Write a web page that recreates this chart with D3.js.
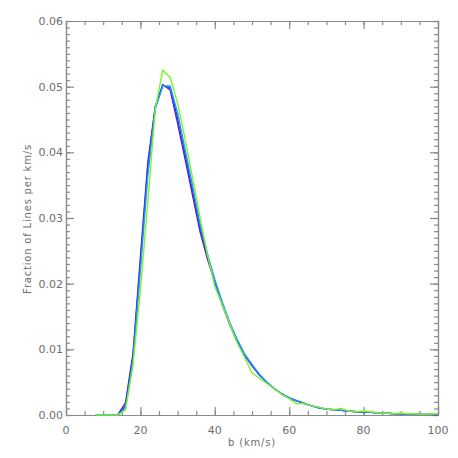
<!DOCTYPE html>
<html>
<head>
<meta charset="utf-8">
<script src="https://cdn.jsdelivr.net/npm/d3@7"></script>
<style>
  body { margin: 0; background: #fff; }
  svg text { font-family: "DejaVu Sans", sans-serif; fill: #6e6e6e; }
</style>
</head>
<body>
<svg id="chart" width="458" height="458"></svg>
<script>
// data (b in km/s, fraction of lines per km/s)
var bins = [8,10,12,14,16,18,20,22,24,26,28,30,32,34,36,38,40,42,44,46,48,50,
            52,54,56,58,60,62,64,66,68,70,72,74,76,78,80,82,84,86,88,90,92,94,96,98,100];

var purpleVals = [0,0,0,0.0001,0.0019,0.0093,0.0240,0.0385,0.0470,0.0503,0.0495,0.0444,0.0390,0.0335,0.0280,0.0238,0.0202,
                  0.0168,0.0138,0.0112,0.0091,0.0075,0.0061,0.0049,0.0040,0.0032,0.0026,0.0021,0.0018,0.0014,0.0011,0.0009,
                  0.0008,0.0007,0.0006,0.0005,0.0004,0.0004,0.0003,0.0003,0.0002,0.0002,0.0002,0.0001,0.0001,0.0001,0.0000];
var blueVals   = [0,0,0,0.0000,0.0014,0.0088,0.0232,0.0378,0.0468,0.0502,0.0498,0.0452,0.0397,0.0342,0.0286,0.0242,0.0204,
                  0.0170,0.0140,0.0114,0.0092,0.0076,0.0061,0.0050,0.0040,0.0032,0.0026,0.0022,0.0018,0.0014,0.0011,0.0009,
                  0.0008,0.0007,0.0006,0.0005,0.0004,0.0004,0.0003,0.0003,0.0002,0.0002,0.0002,0.0001,0.0001,0.0001,0.0001];
var lightVals  = [0,0,0,0.0000,0.0011,0.0082,0.0220,0.0365,0.0466,0.0501,0.0501,0.0460,0.0405,0.0350,0.0292,0.0246,0.0206,
                  0.0172,0.0141,0.0115,0.0093,0.0077,0.0062,0.0050,0.0040,0.0032,0.0026,0.0022,0.0017,0.0014,0.0011,0.0009,
                  0.0008,0.0007,0.0006,0.0005,0.0005,0.0004,0.0003,0.0003,0.0002,0.0002,0.0002,0.0001,0.0001,0.0001,0.0001];
var greenVals  = [0,0,0,0.0000,0.0008,0.0075,0.0190,0.0325,0.0466,0.0525,0.0514,0.0475,0.0420,0.0362,0.0302,0.0245,0.0196,
                  0.0168,0.0139,0.0110,0.0088,0.0064,0.0056,0.0048,0.0040,0.0031,0.0025,0.0017,0.0018,0.0014,0.0012,0.0009,
                  0.0008,0.0010,0.0006,0.0005,0.0006,0.0005,0.0003,0.0003,0.0002,0.0003,0.0002,0.0002,0.0001,0.0002,0.0002];

var xTicks = [0,20,40,60,80,100];
var yTicks = [0,0.01,0.02,0.03,0.04,0.05,0.06];

var series = [
    {vals: purpleVals, color: '#6a1fa6'},
    {vals: blueVals,   color: '#2a3cf0'},
    {vals: lightVals,  color: '#1e9bff'},
    {vals: greenVals,  color: '#7cf52a'}
];
// END data

var pLeft = 66, pRight = 438, pTop = 21, pBottom = 415;
var svg = d3.select('#chart');

var x = d3.scaleLinear().domain([0,100]).range([pLeft,pRight]);
var y = d3.scaleLinear().domain([0,0.06]).range([pBottom,pTop]);

var axisColor = '#8a8a8a';

// frame ticks (inward, mirrored on all sides)
function drawAxis(axis, tx, ty){
    var g = svg.append('g').attr('transform','translate('+tx+','+ty+')').call(axis);
    g.selectAll('path').attr('stroke', axisColor).attr('stroke-width',1.2);
    g.selectAll('line').attr('stroke', axisColor).attr('stroke-width',1.2);
    return g;
}

var xMinor = d3.range(0,101,5);
var yMinor = d3.range(0,61,1).map(function(d){ return d/1000; });

// minor ticks
drawAxis(d3.axisTop(x).tickValues(xMinor).tickSize(4).tickFormat('').tickSizeOuter(0), 0, pBottom);
drawAxis(d3.axisBottom(x).tickValues(xMinor).tickSize(4).tickFormat('').tickSizeOuter(0), 0, pTop);
drawAxis(d3.axisRight(y).tickValues(yMinor).tickSize(4).tickFormat('').tickSizeOuter(0), pLeft, 0);
drawAxis(d3.axisLeft(y).tickValues(yMinor).tickSize(4).tickFormat('').tickSizeOuter(0), pRight, 0);

// major ticks
drawAxis(d3.axisTop(x).tickValues(xTicks).tickSize(8).tickFormat('').tickSizeOuter(0), 0, pBottom);
drawAxis(d3.axisBottom(x).tickValues(xTicks).tickSize(8).tickFormat('').tickSizeOuter(0), 0, pTop);
drawAxis(d3.axisRight(y).tickValues(yTicks).tickSize(8).tickFormat('').tickSizeOuter(0), pLeft, 0);
drawAxis(d3.axisLeft(y).tickValues(yTicks).tickSize(8).tickFormat('').tickSizeOuter(0), pRight, 0);

// tick labels
svg.append('g').selectAll('text').data(xTicks).enter().append('text')
    .attr('x', function(d){ return x(d); })
    .attr('y', pBottom + 19)
    .attr('text-anchor','middle')
    .attr('font-size', 11)
    .text(function(d){ return d; });

svg.append('g').selectAll('text').data(yTicks).enter().append('text')
    .attr('x', pLeft - 3)
    .attr('y', function(d){ return y(d) + 4; })
    .attr('text-anchor','end')
    .attr('font-size', 11)
    .text(function(d){ return d3.format('.2f')(d); });

// axis titles
svg.append('text')
    .attr('x', (pLeft+pRight)/2)
    .attr('y', 446)
    .attr('text-anchor','middle')
    .attr('font-size', 10)
    .attr('letter-spacing', 0.8)
    .text('b (km/s)');

svg.append('text')
    .attr('transform','translate(31,'+((pTop+pBottom)/2 + 1)+') rotate(-90)')
    .attr('text-anchor','middle')
    .attr('font-size', 10)
    .attr('letter-spacing', 0.8)
    .text('Fraction of Lines per km/s');

// curves
var line = d3.line()
    .x(function(d){ return x(d[0]); })
    .y(function(d){ return y(d[1]); });

series.forEach(function(s){
    var pts = bins.map(function(b,i){ return [b, s.vals[i]]; });
    svg.append('path')
        .datum(pts)
        .attr('d', line)
        .attr('fill','none')
        .attr('stroke', s.color)
        .attr('stroke-width', 1.4);
});
</script>
</body>
</html>
